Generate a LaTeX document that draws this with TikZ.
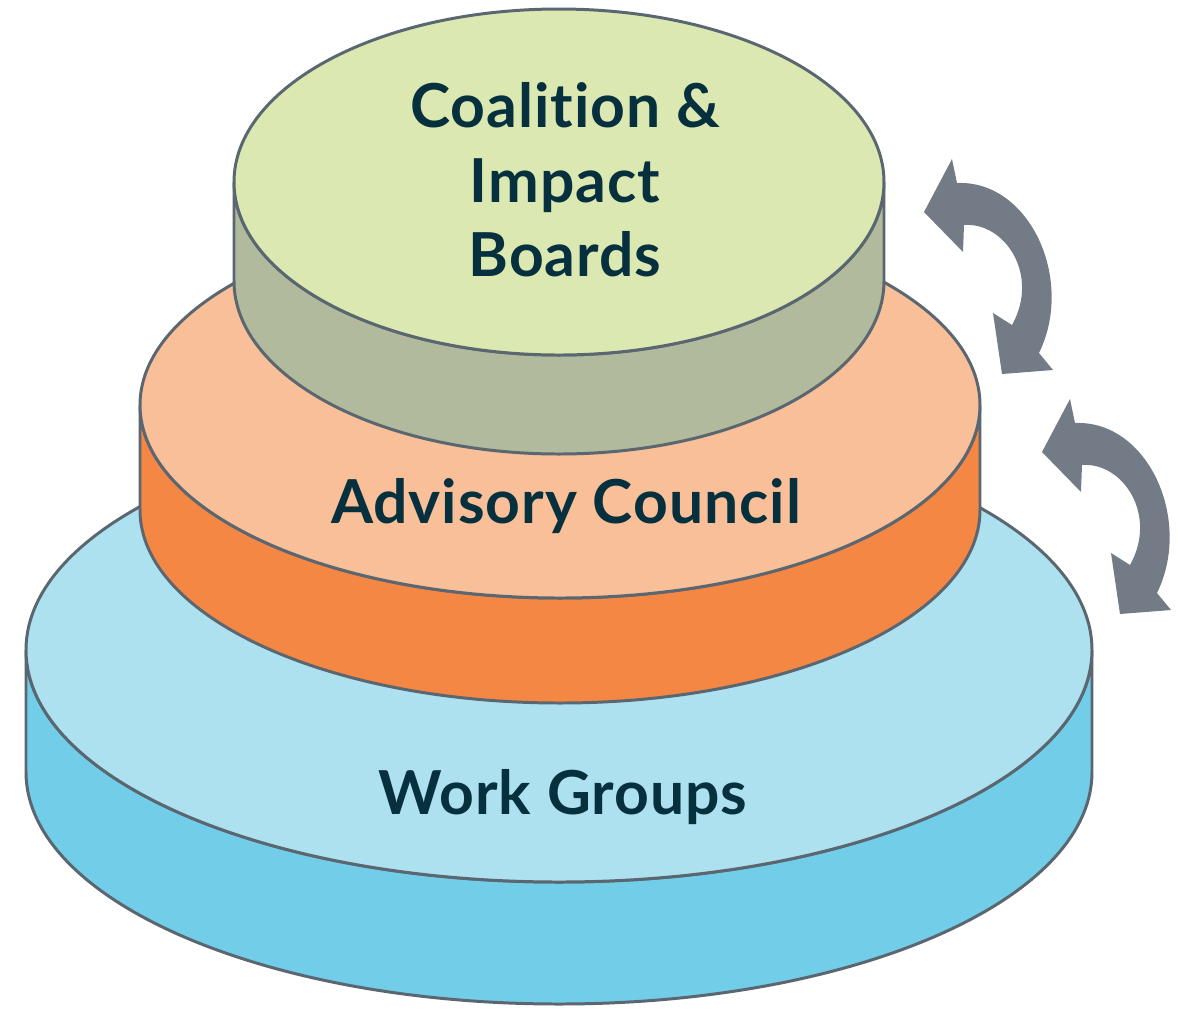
\documentclass[tikz,border=0pt]{standalone}
\usepackage{fontspec}
\setmainfont{Lato}[Ligatures=NoCommon, LetterSpace=1.6]
\usepackage{tikz}
\usetikzlibrary{positioning}

\definecolor{inkline}{HTML}{5B6770}
\definecolor{inktext}{HTML}{06303D}
\definecolor{greentop}{HTML}{DCE8B2}
\definecolor{greenside}{HTML}{B1BA9C}
\definecolor{orangetop}{HTML}{F9BF98}
\definecolor{orangeside}{HTML}{F58744}
\definecolor{bluetop}{HTML}{AEE1EF}
\definecolor{blueside}{HTML}{72CDE8}
\definecolor{arrowgray}{HTML}{737C86}

% one tier: centre x, top centre y, x radius, y radius, height, top colour, side colour
\newcommand{\tier}[7]{%
    \filldraw[tierline, fill=#7] (#1-#3,-#2) -- (#1-#3,-#2-#5)
        arc[start angle=180, end angle=360, x radius=#3, y radius=#4]
        -- (#1+#3,-#2)
        arc[start angle=0, end angle=-180, x radius=#3, y radius=#4] -- cycle;
    \filldraw[tierline, fill=#6] (#1,-#2) ellipse[x radius=#3, y radius=#4];
}

\begin{document}
\begin{tikzpicture}[x=0.02cm, y=0.02cm]
    \tikzstyle{tierline}=[draw=inkline, line width=1.7pt]
    \tikzstyle{tierlabel}=[text=inktext, font=\fontsize{34.5}{42.5}\selectfont\bfseries, inner sep=0pt, align=center]
    \tikzstyle{cyclearrow}=[fill=arrowgray]

    \useasboundingbox (0,0) rectangle (1178,-1009);

    \tier{559}{650}{533}{232}{122}{bluetop}{blueside}
    \tier{560}{405}{420}{193}{105}{orangetop}{orangeside}
    \tier{559}{182}{325}{173}{99}{greentop}{greenside}

    \node[tierlabel] (coalition) at (565,-180) {Coalition \&\\Impact\\Boards};
    \node[tierlabel, anchor=base] (advisory) at (566,-523) {Advisory Council};
    \node[tierlabel, anchor=base] (work) at (563,-814) {Work Groups};

    % the two curved arrows on the right
    \foreach \dx/\dy in {0/0, 118/240}
        \fill[cyclearrow, shift={(\dx,-\dy)}]
            (924,-212) -- (952,-159) -- (957,-183)
            .. controls (1030,-180) and (1075,-280) .. (1039,-353)
            -- (1053,-370) -- (1002,-374) -- (993,-313) -- (1012,-325)
            .. controls (1040,-275) and (1005,-222) .. (964,-225)
            -- (963,-252) -- cycle;
\end{tikzpicture}
\end{document}
